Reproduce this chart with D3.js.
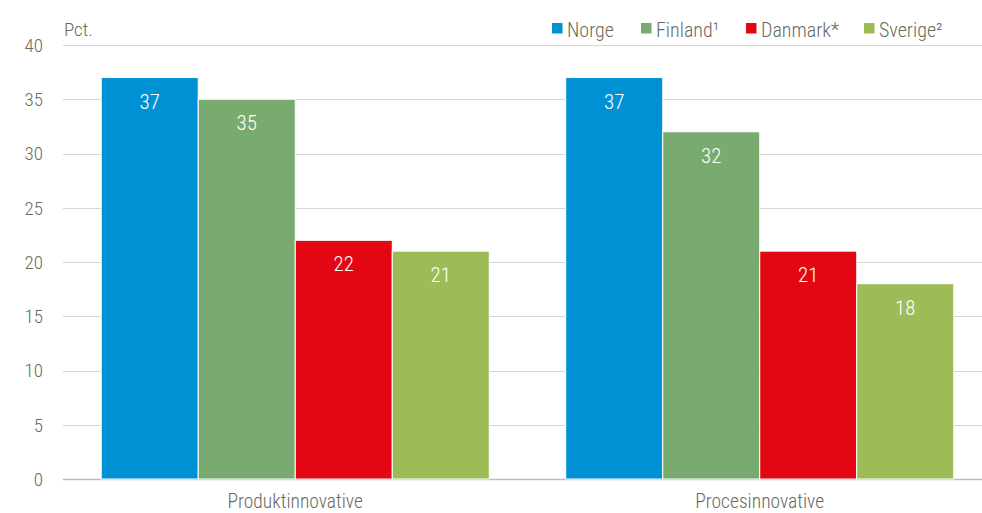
<!DOCTYPE html>
<html>
<head>
<meta charset="utf-8">
<script src="https://cdn.jsdelivr.net/npm/d3@7"></script>
<style>
  body { margin: 0; background: #fff; }
  text { font-family: "Roboto Condensed", "Liberation Sans Narrow", "Arial Narrow", sans-serif; }
  .lbl { font-weight: 300; }
</style>
</head>
<body>
<svg id="chart" width="982" height="513"></svg>
<script>
// data
const categories = ['Produktinnovative', 'Procesinnovative'];
const countries = ['Norge', 'Finland\u00B9', 'Danmark*', 'Sverige\u00B2'];
const colours = ['#0091D5', '#79AB70', '#E30613', '#9DBB57'];
const norge = [37, 37];
const finland = [35, 32];
const danmark = [22, 21];
const sverige = [21, 18];
const yTicks = [0, 5, 10, 15, 20, 25, 30, 35, 40];

const seriesValues = [norge, finland, danmark, sverige];

const svg = d3.select('#chart');
const margin = {top: 45, left: 63, bottom: 34};
const W = 982, H = 513;
const TEXT_COL = '#6A6A5E';

let y = d3.scaleLinear()
    .domain([0, 40])
    .range([H - margin.bottom, margin.top]);

let x0 = d3.scaleBand()
    .domain(categories)
    .range([margin.left, 992])
    .padding(0);

let x1 = d3.scaleBand()
    .domain(countries)
    .range([0, x0.bandwidth()])
    .paddingInner(0)
    .paddingOuter(0.394);

// gridlines
svg.append('g')
    .selectAll('line')
    .data(yTicks)
    .join('line')
    .attr('x1', margin.left)
    .attr('x2', W)
    .attr('y1', d => Math.round(y(d)) + 0.5)
    .attr('y2', d => Math.round(y(d)) + 0.5)
    .attr('stroke', d => d === 0 ? '#BDBDB3' : '#D6D6CE')
    .attr('stroke-width', d => d === 0 ? 1.5 : 1);

// y tick labels
svg.append('g')
    .selectAll('text')
    .data(yTicks)
    .join('text')
    .attr('class', 'lbl')
    .attr('x', 43)
    .attr('y', d => y(d))
    .attr('dy', '0.36em')
    .attr('text-anchor', 'end')
    .attr('fill', TEXT_COL)
    .attr('font-size', 19)
    .text(d => d);

svg.append('text')
    .attr('class', 'lbl')
    .attr('x', 64)
    .attr('y', 36)
    .attr('fill', TEXT_COL)
    .attr('font-size', 19)
    .text('Pct.');

// bars
let groups = svg.append('g')
    .selectAll('g')
    .data(categories)
    .join('g')
    .attr('transform', d => `translate(${x0(d)},0)`);

groups.selectAll('rect')
    .data((c, i) => countries.map((s, j) => ({s: s, v: seriesValues[j][i], col: colours[j]})))
    .join('rect')
    .attr('x', d => x1(d.s))
    .attr('width', x1.bandwidth())
    .attr('y', d => y(d.v))
    .attr('height', d => y(0) - y(d.v))
    .attr('fill', d => d.col)
    .attr('stroke', '#fff')
    .attr('stroke-width', 1);

groups.selectAll('text.val')
    .data((c, i) => countries.map((s, j) => ({s: s, v: seriesValues[j][i]})))
    .join('text')
    .attr('class', 'val lbl')
    .attr('x', d => x1(d.s) + x1.bandwidth() / 2)
    .attr('y', d => y(d.v) + 31)
    .attr('text-anchor', 'middle')
    .attr('fill', '#fff')
    .attr('font-size', 21)
    .text(d => d.v);

// category labels
svg.append('g')
    .selectAll('text')
    .data(categories)
    .join('text')
    .attr('class', 'lbl')
    .attr('x', d => x0(d) + x0.bandwidth() / 2)
    .attr('y', 508)
    .attr('text-anchor', 'middle')
    .attr('fill', TEXT_COL)
    .attr('font-size', 19.5)
    .text(d => d);

// legend
const legendX = [552, 641, 746, 864];
let legend = svg.append('g')
    .selectAll('g')
    .data(countries)
    .join('g')
    .attr('transform', (d, i) => `translate(${legendX[i]},23)`);

legend.append('rect')
    .attr('width', 10.5)
    .attr('height', 10.5)
    .attr('fill', (d, i) => colours[i]);

legend.append('text')
    .attr('class', 'lbl')
    .attr('x', 15)
    .attr('y', 13.5)
    .attr('fill', TEXT_COL)
    .attr('font-size', 20)
    .text(d => d);
</script>
</body>
</html>
